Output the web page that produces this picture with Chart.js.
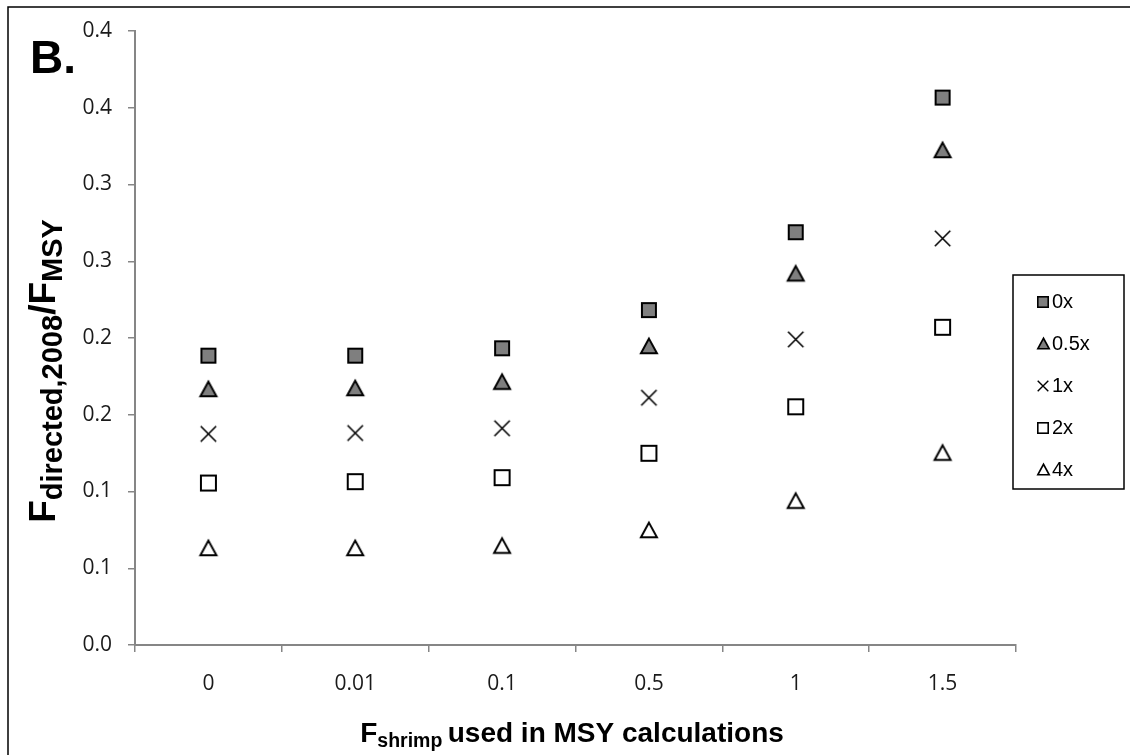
<!DOCTYPE html>
<html>
<head>
<meta charset="utf-8">
<script src="https://cdn.jsdelivr.net/npm/chart.js@4.4.1/dist/chart.umd.min.js"></script>
<style>
  html, body { margin: 0; padding: 0; background: #ffffff; }
  #wrap { width: 1130px; height: 755px; }
</style>
</head>
<body>
<div id="wrap"><canvas id="chart" width="1130" height="755"></canvas></div>
<script>
// F_shrimp values used in the MSY calculations (x categories)
const categories = ['0', '0.01', '0.1', '0.5', '1', '1.5'];

// F_directed,2008 / F_MSY for each bycatch scenario
const series0x  = [0.1885, 0.1885, 0.1933, 0.2182, 0.2689, 0.3566];
const series05x = [0.1668, 0.1674, 0.1715, 0.1948, 0.2421, 0.3225];
const series1x  = [0.1375, 0.1381, 0.1412, 0.1611, 0.1991, 0.2649];
const series2x  = [0.1055, 0.1064, 0.1090, 0.1249, 0.1552, 0.2070];
const series4x  = [0.0632, 0.0632, 0.0647, 0.0749, 0.0940, 0.1253];

const seriesNames = ['0x', '0.5x', '1x', '2x', '4x'];

// y tick labels, one decimal place as printed on the axis
const yTickLabels = ['0.0', '0.1', '0.1', '0.2', '0.2', '0.3', '0.3', '0.4', '0.4'];

const GRAY_FILL = '#7f7f7f';
const AXIS_GRAY = '#868686';

// Small canvas markers so every symbol is centred on its bounding box
function marker(kind, size, fill, lw) {
  const pad = 2;
  const c = document.createElement('canvas');
  c.width = size + pad * 2;
  c.height = size + pad * 2;
  const g = c.getContext('2d');
  g.lineWidth = lw;
  g.strokeStyle = '#000000';
  g.fillStyle = fill;
  g.lineJoin = 'miter';
  const h = lw / 2;
  const x0 = pad + h, y0 = pad + h, s = size - lw;
  if (kind === 'square') {
    g.fillRect(x0, y0, s, s);
    g.strokeRect(x0, y0, s, s);
  } else if (kind === 'triangle') {
    const th = s * 0.92;
    const ty = y0 + (s - th) / 2;
    g.beginPath();
    g.moveTo(x0 + s / 2, ty);
    g.lineTo(x0 + s, ty + th);
    g.lineTo(x0, ty + th);
    g.closePath();
    g.fill();
    g.stroke();
  } else if (kind === 'cross') {
    g.lineCap = 'butt';
    g.beginPath();
    g.moveTo(x0, y0); g.lineTo(x0 + s, y0 + s);
    g.moveTo(x0 + s, y0); g.lineTo(x0, y0 + s);
    g.stroke();
  }
  return c;
}

const plotMarkers = [
  marker('square', 16, GRAY_FILL, 2),
  marker('triangle', 18, GRAY_FILL, 2),
  marker('cross', 17, '#000000', 1.6),
  marker('square', 17, '#ffffff', 2),
  marker('triangle', 18, '#ffffff', 2)
];
const legendMarkers = [
  marker('square', 12, GRAY_FILL, 1.6),
  marker('triangle', 13, GRAY_FILL, 1.6),
  marker('cross', 12, '#000000', 1.4),
  marker('square', 12, '#ffffff', 1.6),
  marker('triangle', 13, '#ffffff', 1.6)
];

const allSeries = [series0x, series05x, series1x, series2x, series4x];

const datasets = allSeries.map((vals, i) => ({
  label: seriesNames[i],
  data: vals,
  showLine: false,
  pointStyle: plotMarkers[i],
  pointRadius: 9,
  pointHoverRadius: 9,
  borderColor: '#000000',
  backgroundColor: GRAY_FILL
}));

// Frame, panel letter, axis titles with subscripts and the boxed legend
const decorations = {
  id: 'decorations',
  afterDraw(chart) {
    const ctx = chart.ctx;
    ctx.save();

    // outer frame
    ctx.strokeStyle = '#000000';
    ctx.lineWidth = 1.5;
    ctx.beginPath();
    ctx.moveTo(8, 800);
    ctx.lineTo(8, 7);
    ctx.lineTo(1200, 7);
    ctx.stroke();

    // panel letter
    ctx.fillStyle = '#000000';
    ctx.font = 'bold 46px "Liberation Sans", Arial, sans-serif';
    ctx.textAlign = 'left';
    ctx.textBaseline = 'alphabetic';
    ctx.fillText('B.', 30, 73);

    // draws a run of text pieces (some lowered as subscripts) centred at cx
    function drawRuns(runs, cx, baseY) {
      let total = 0;
      runs.forEach(r => {
        ctx.font = 'bold ' + r.size + 'px "Liberation Sans", Arial, sans-serif';
        r.w = ctx.measureText(r.text).width;
        total += r.w;
      });
      let x = cx - total / 2;
      runs.forEach(r => {
        ctx.font = 'bold ' + r.size + 'px "Liberation Sans", Arial, sans-serif';
        ctx.fillText(r.text, x, baseY + r.dy);
        x += r.w;
      });
    }

    // x axis title
    ctx.textAlign = 'left';
    drawRuns([
      { text: 'F', size: 28, dy: 0 },
      { text: 'shrimp ', size: 19.5, dy: 5 },
      { text: 'used in MSY calculations', size: 28, dy: 0 }
    ], 572, 742);

    // y axis title, rotated
    ctx.save();
    ctx.translate(55, 371);
    ctx.rotate(-Math.PI / 2);
    drawRuns([
      { text: 'F', size: 37, dy: 0 },
      { text: 'directed,2008', size: 29, dy: 7 },
      { text: '/F', size: 37, dy: 0 },
      { text: 'MSY', size: 29, dy: 7 }
    ], 0, 0);
    ctx.restore();

    // legend box
    ctx.strokeStyle = '#000000';
    ctx.lineWidth = 1.5;
    ctx.fillStyle = '#ffffff';
    ctx.fillRect(1013, 275, 111, 214);
    ctx.strokeRect(1013, 275, 111, 214);
    ctx.fillStyle = '#000000';
    ctx.font = '20px "Liberation Sans", Arial, sans-serif';
    ctx.textBaseline = 'middle';
    ctx.textAlign = 'left';
    seriesNames.forEach((name, i) => {
      const y = 301.5 + i * 42;
      const m = legendMarkers[i];
      ctx.drawImage(m, Math.round(1043 - m.width / 2), Math.round(y - m.height / 2));
      ctx.fillText(name, 1052, y + 1);
    });

    ctx.restore();
  }
};

const tickFont = { family: '"Open Sans", sans-serif', size: 21 };

new Chart(document.getElementById('chart'), {
  type: 'line',
  data: { labels: categories, datasets: datasets },
  options: {
    responsive: false,
    animation: false,
    layout: { padding: { left: 0, top: 31, right: 114, bottom: 0 } },
    plugins: {
      legend: { display: false },
      tooltip: { enabled: false }
    },
    scales: {
      x: {
        type: 'category',
        offset: true,
        grid: {
          offset: true,
          drawOnChartArea: false,
          drawTicks: true,
          tickLength: 7,
          color: AXIS_GRAY,
          lineWidth: 1.5
        },
        border: { color: AXIS_GRAY, width: 2 },
        ticks: {
          color: '#1a1a1a',
          font: tickFont,
          padding: 19,
          maxRotation: 0,
          autoSkip: false
        },
        afterFit(scale) { scale.height = 110; }
      },
      y: {
        min: 0,
        max: 0.4,
        grid: {
          drawOnChartArea: false,
          drawTicks: true,
          tickLength: 7,
          color: AXIS_GRAY,
          lineWidth: 1.5
        },
        border: { color: AXIS_GRAY, width: 2 },
        ticks: {
          stepSize: 0.05,
          color: '#1a1a1a',
          font: tickFont,
          padding: 16,
          callback: (value, index) => yTickLabels[index]
        },
        afterFit(scale) { scale.width = 135; }
      }
    }
  },
  plugins: [decorations]
});
</script>
</body>
</html>
